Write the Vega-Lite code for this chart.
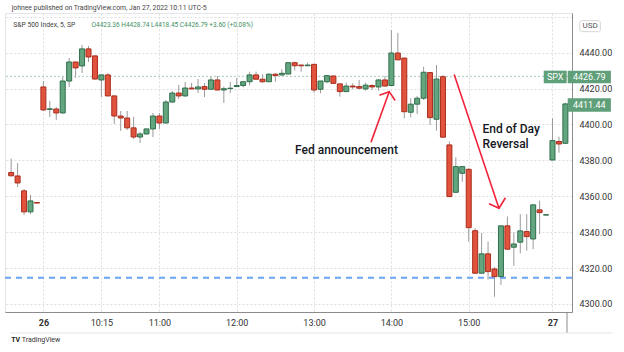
{
  "$schema": "https://vega.github.io/schema/vega-lite/v6.json",
  "width": 567,
  "height": 299,
  "autosize": {"type": "none"},
  "padding": {"left": 5, "top": 13, "right": 52, "bottom": 40},
  "background": "white",
  "resolve": {"axis": {"x": "independent", "y": "independent"}},
  "config": {
    "view": {"stroke": "#e3e5ea"},
    "font": "Roboto",
    "axis": {
      "grid": true,
      "gridColor": "#dedede",
      "gridDash": [2, 2],
      "ticks": false,
      "domainColor": "#8c8c8c",
      "labelFont": "Roboto",
      "labelFontSize": 9,
      "labelColor": "#333333"
    }
  },
  "datasets": {
    "candles": [
      {"i": -5, "o": 4373.2, "h": 4381.0, "l": 4371.0, "c": 4371.4},
      {"i": -4, "o": 4371.3, "h": 4378.5, "l": 4365.2, "c": 4367.4},
      {"i": -3, "o": 4363.0, "h": 4364.0, "l": 4349.6, "c": 4351.3},
      {"i": -2, "o": 4351.3, "h": 4360.7, "l": 4350.1, "c": 4357.4},
      {"i": -1, "o": 4356.5, "h": 4356.5, "l": 4356.2, "c": 4356.2},
      {"i": 0, "o": 4420.9, "h": 4424.2, "l": 4407.5, "c": 4408.1},
      {"i": 1, "o": 4408.4, "h": 4413.1, "l": 4404.2, "c": 4408.7},
      {"i": 2, "o": 4408.6, "h": 4409.7, "l": 4402.5, "c": 4406.4},
      {"i": 3, "o": 4406.4, "h": 4426.5, "l": 4406.0, "c": 4424.2},
      {"i": 4, "o": 4424.2, "h": 4437.0, "l": 4420.9, "c": 4434.8},
      {"i": 5, "o": 4434.8, "h": 4434.8, "l": 4425.9, "c": 4431.5},
      {"i": 6, "o": 4432.6, "h": 4444.3, "l": 4428.7, "c": 4442.1},
      {"i": 7, "o": 4442.1, "h": 4443.7, "l": 4434.8, "c": 4437.6},
      {"i": 8, "o": 4438.2, "h": 4438.5, "l": 4425.0, "c": 4425.3},
      {"i": 9, "o": 4424.8, "h": 4427.8, "l": 4415.3, "c": 4427.6},
      {"i": 10, "o": 4427.6, "h": 4428.7, "l": 4415.7, "c": 4415.9},
      {"i": 11, "o": 4415.9, "h": 4416.0, "l": 4400.3, "c": 4404.7},
      {"i": 12, "o": 4404.7, "h": 4407.5, "l": 4396.4, "c": 4403.6},
      {"i": 13, "o": 4403.6, "h": 4407.5, "l": 4396.9, "c": 4398.1},
      {"i": 14, "o": 4398.1, "h": 4404.2, "l": 4391.9, "c": 4393.0},
      {"i": 15, "o": 4393.0, "h": 4395.8, "l": 4389.7, "c": 4394.7},
      {"i": 16, "o": 4394.7, "h": 4397.6, "l": 4394.5, "c": 4397.5},
      {"i": 17, "o": 4397.5, "h": 4406.4, "l": 4393.0, "c": 4404.7},
      {"i": 18, "o": 4404.7, "h": 4406.4, "l": 4397.5, "c": 4400.8},
      {"i": 19, "o": 4400.8, "h": 4413.6, "l": 4400.6, "c": 4412.5},
      {"i": 20, "o": 4412.5, "h": 4418.7, "l": 4412.0, "c": 4417.5},
      {"i": 21, "o": 4417.5, "h": 4422.0, "l": 4414.2, "c": 4415.9},
      {"i": 22, "o": 4415.9, "h": 4423.7, "l": 4415.3, "c": 4420.3},
      {"i": 23, "o": 4420.3, "h": 4423.1, "l": 4419.6, "c": 4419.8},
      {"i": 24, "o": 4419.8, "h": 4425.3, "l": 4417.5, "c": 4420.9},
      {"i": 25, "o": 4421.1, "h": 4423.1, "l": 4415.3, "c": 4419.6},
      {"i": 26, "o": 4419.6, "h": 4426.6, "l": 4419.4, "c": 4424.8},
      {"i": 27, "o": 4424.8, "h": 4427.0, "l": 4419.0, "c": 4419.2},
      {"i": 28, "o": 4419.2, "h": 4421.1, "l": 4412.0, "c": 4419.9},
      {"i": 29, "o": 4420.0, "h": 4423.7, "l": 4417.5, "c": 4420.2},
      {"i": 30, "o": 4421.1, "h": 4425.9, "l": 4421.0, "c": 4421.7},
      {"i": 31, "o": 4421.7, "h": 4424.0, "l": 4420.6, "c": 4423.8},
      {"i": 32, "o": 4423.8, "h": 4429.4, "l": 4421.7, "c": 4427.6},
      {"i": 33, "o": 4427.6, "h": 4429.4, "l": 4425.0, "c": 4425.2},
      {"i": 34, "o": 4425.2, "h": 4428.0, "l": 4423.3, "c": 4423.8},
      {"i": 35, "o": 4423.8, "h": 4428.5, "l": 4423.6, "c": 4428.0},
      {"i": 36, "o": 4428.0, "h": 4428.5, "l": 4423.8, "c": 4427.2},
      {"i": 37, "o": 4427.6, "h": 4430.8, "l": 4427.0, "c": 4428.5},
      {"i": 38, "o": 4428.1, "h": 4434.6, "l": 4428.0, "c": 4434.4},
      {"i": 39, "o": 4434.4, "h": 4435.0, "l": 4430.0, "c": 4432.7},
      {"i": 40, "o": 4433.1, "h": 4433.2, "l": 4429.4, "c": 4432.7},
      {"i": 41, "o": 4432.7, "h": 4434.4, "l": 4432.6, "c": 4433.1},
      {"i": 42, "o": 4433.5, "h": 4433.6, "l": 4417.7, "c": 4419.2},
      {"i": 43, "o": 4419.6, "h": 4424.3, "l": 4417.4, "c": 4424.2},
      {"i": 44, "o": 4423.8, "h": 4427.3, "l": 4422.9, "c": 4427.2},
      {"i": 45, "o": 4427.0, "h": 4427.1, "l": 4422.6, "c": 4422.9},
      {"i": 46, "o": 4422.6, "h": 4422.7, "l": 4415.5, "c": 4418.3},
      {"i": 47, "o": 4418.3, "h": 4423.3, "l": 4418.2, "c": 4421.4},
      {"i": 48, "o": 4421.4, "h": 4422.9, "l": 4419.6, "c": 4420.9},
      {"i": 49, "o": 4421.1, "h": 4424.8, "l": 4419.6, "c": 4420.2},
      {"i": 50, "o": 4419.8, "h": 4423.3, "l": 4418.8, "c": 4421.9},
      {"i": 51, "o": 4421.7, "h": 4422.4, "l": 4419.2, "c": 4420.9},
      {"i": 52, "o": 4420.9, "h": 4425.2, "l": 4418.8, "c": 4424.8},
      {"i": 53, "o": 4424.8, "h": 4427.0, "l": 4421.1, "c": 4421.4},
      {"i": 54, "o": 4421.7, "h": 4452.6, "l": 4421.5, "c": 4439.8},
      {"i": 55, "o": 4439.8, "h": 4451.0, "l": 4435.8, "c": 4436.0},
      {"i": 56, "o": 4437.0, "h": 4437.2, "l": 4403.4, "c": 4407.1},
      {"i": 57, "o": 4406.8, "h": 4414.6, "l": 4403.9, "c": 4411.3},
      {"i": 58, "o": 4411.3, "h": 4415.9, "l": 4405.8, "c": 4414.6},
      {"i": 59, "o": 4414.6, "h": 4432.2, "l": 4413.6, "c": 4429.1},
      {"i": 60, "o": 4428.9, "h": 4429.2, "l": 4399.7, "c": 4403.8},
      {"i": 61, "o": 4402.9, "h": 4433.1, "l": 4396.5, "c": 4425.3},
      {"i": 62, "o": 4426.6, "h": 4427.6, "l": 4392.8, "c": 4392.9},
      {"i": 63, "o": 4388.6, "h": 4390.5, "l": 4359.6, "c": 4359.8},
      {"i": 64, "o": 4362.2, "h": 4381.7, "l": 4362.0, "c": 4376.5},
      {"i": 65, "o": 4372.8, "h": 4376.9, "l": 4368.1, "c": 4376.5},
      {"i": 66, "o": 4375.0, "h": 4375.6, "l": 4334.7, "c": 4342.5},
      {"i": 67, "o": 4340.8, "h": 4342.2, "l": 4317.0, "c": 4317.1},
      {"i": 68, "o": 4317.1, "h": 4339.5, "l": 4316.9, "c": 4327.9},
      {"i": 69, "o": 4327.9, "h": 4334.7, "l": 4313.5, "c": 4318.0},
      {"i": 70, "o": 4319.5, "h": 4320.5, "l": 4304.0, "c": 4315.2},
      {"i": 71, "o": 4315.2, "h": 4343.6, "l": 4310.6, "c": 4343.5},
      {"i": 72, "o": 4343.5, "h": 4348.7, "l": 4330.4, "c": 4330.5},
      {"i": 73, "o": 4331.6, "h": 4339.9, "l": 4321.2, "c": 4333.4},
      {"i": 74, "o": 4334.4, "h": 4350.0, "l": 4328.2, "c": 4340.7},
      {"i": 75, "o": 4340.3, "h": 4350.0, "l": 4329.7, "c": 4337.5},
      {"i": 76, "o": 4336.2, "h": 4355.3, "l": 4330.5, "c": 4355.2},
      {"i": 77, "o": 4352.4, "h": 4357.5, "l": 4338.8, "c": 4350.9},
      {"i": 78, "o": 4349.5, "h": 4349.7, "l": 4349.5, "c": 4349.7},
      {"i": 79, "o": 4380.2, "h": 4403.5, "l": 4380.0, "c": 4391.0},
      {"i": 80, "o": 4390.5, "h": 4393.2, "l": 4384.3, "c": 4389.1},
      {"i": 81, "o": 4389.5, "h": 4412.1, "l": 4389.4, "c": 4411.44}
    ],
    "arrows": [
      {"x": 50.87, "y": 4390.42, "x2": 53.66, "y2": 4418.27},
      {"x": 52.24, "y": 4416.43, "x2": 53.66, "y2": 4418.27},
      {"x": 54.53, "y": 4413.65, "x2": 53.66, "y2": 4418.27},
      {"x": 63.77, "y": 4427.58, "x2": 70.69, "y2": 4353.31},
      {"x": 69.25, "y": 4355.71, "x2": 70.69, "y2": 4353.31},
      {"x": 71.65, "y": 4358.89, "x2": 70.69, "y2": 4353.31}
    ]
  },
  "layer": [
    {
      "data": {"name": "candles"},
      "mark": {"type": "rule", "color": "#9a9a9a", "strokeWidth": 1, "clip": true},
      "encoding": {
        "x": {
          "field": "i", "type": "quantitative", "title": null,
          "scale": {"domain": [-5.18, 81.25], "nice": false, "zero": false},
          "axis": {
            "orient": "bottom",
            "values": [0, 9, 18, 30, 42, 54, 66, 79],
            "labelExpr": "datum.value == 0 ? '26' : datum.value == 9 ? '10:15' : datum.value == 18 ? '11:00' : datum.value == 30 ? '12:00' : datum.value == 42 ? '13:00' : datum.value == 54 ? '14:00' : datum.value == 66 ? '15:00' : '27'",
            "labelFontWeight": {"condition": {"test": "datum.value == 0 || datum.value == 79", "value": "bold"}, "value": "normal"},
            "labelPadding": 6,
            "labelOverlap": false,
            "labelBound": false
          }
        },
        "y": {
          "field": "l", "type": "quantitative", "title": null,
          "scale": {"domain": [4295.5, 4462.1], "nice": false, "zero": false},
          "axis": {
            "orient": "right",
            "values": [4300, 4320, 4340, 4360, 4380, 4400, 4420, 4440, 4460],
            "labelExpr": "datum.value == 4460 ? '' : format(datum.value, '.2f')",
            "labelPadding": 7,
            "labelOverlap": false
          }
        },
        "y2": {"field": "h"}
      }
    },
    {
      "data": {"values": [{}]},
      "mark": {"type": "rule", "color": "#6aa5f5", "strokeWidth": 2, "strokeDash": [6, 5]},
      "encoding": {"y": {"datum": 4314.6, "type": "quantitative", "axis": null}}
    },
    {
      "data": {"values": [{}]},
      "mark": {"type": "rule", "color": "#a9c9b6", "strokeWidth": 1, "strokeDash": [2, 2]},
      "encoding": {"y": {"datum": 4426.79, "type": "quantitative", "axis": null}}
    },
    {
      "data": {"name": "candles"},
      "mark": {"type": "bar", "width": 5, "strokeWidth": 1, "clip": true},
      "encoding": {
        "x": {"field": "i", "type": "quantitative", "axis": null},
        "y": {"field": "o", "type": "quantitative", "axis": null},
        "y2": {"field": "c"},
        "fill": {"condition": {"test": "datum.c >= datum.o", "value": "#62a57f"}, "value": "#e2533d"},
        "stroke": {"condition": {"test": "datum.c >= datum.o", "value": "#2f6e4b"}, "value": "#a82d1d"}
      }
    },
    {
      "data": {"name": "arrows"},
      "mark": {"type": "rule", "color": "#f2243a", "strokeWidth": 1.6, "strokeCap": "round"},
      "encoding": {
        "x": {"field": "x", "type": "quantitative", "axis": null},
        "y": {"field": "y", "type": "quantitative", "axis": null},
        "x2": {"field": "x2"},
        "y2": {"field": "y2"}
      }
    },
    {
      "data": {"values": [{}]},
      "mark": {"type": "text", "text": "Fed announcement", "font": "Roboto", "fontSize": 12, "fontWeight": 500, "color": "#131722", "align": "center", "baseline": "middle"},
      "encoding": {
        "x": {"datum": 47.03, "type": "quantitative", "axis": null},
        "y": {"datum": 4385.8, "type": "quantitative", "axis": null}
      }
    },
    {
      "data": {"values": [{}]},
      "mark": {"type": "text", "text": "End of Day", "font": "Roboto", "fontSize": 12, "fontWeight": 500, "color": "#131722", "align": "left", "baseline": "middle"},
      "encoding": {
        "x": {"datum": 68.14, "type": "quantitative", "axis": null},
        "y": {"datum": 4397.2, "type": "quantitative", "axis": null}
      }
    },
    {
      "data": {"values": [{}]},
      "mark": {"type": "text", "text": "Reversal", "font": "Roboto", "fontSize": 12, "fontWeight": 500, "color": "#131722", "align": "left", "baseline": "middle"},
      "encoding": {
        "x": {"datum": 68.14, "type": "quantitative", "axis": null},
        "y": {"datum": 4389.1, "type": "quantitative", "axis": null}
      }
    },
    {
      "data": {"values": [{}]},
      "mark": {"type": "rect", "fill": "#5f9f79", "clip": false},
      "encoding": {
        "x": {"datum": 77.64, "type": "quantitative", "axis": null},
        "x2": {"datum": 81.2},
        "y": {"datum": 4429.97, "type": "quantitative", "axis": null},
        "y2": {"datum": 4422.95}
      }
    },
    {
      "data": {"values": [{}]},
      "mark": {"type": "rect", "fill": "#5f9f79", "clip": false},
      "encoding": {
        "x": {"datum": 81.36, "type": "quantitative", "axis": null},
        "x2": {"datum": 88.06},
        "y": {"datum": 4429.97, "type": "quantitative", "axis": null},
        "y2": {"datum": 4422.95}
      }
    },
    {
      "data": {"values": [{}]},
      "mark": {"type": "rect", "fill": "#5f9f79", "clip": false},
      "encoding": {
        "x": {"datum": 81.36, "type": "quantitative", "axis": null},
        "x2": {"datum": 88.06},
        "y": {"datum": 4414.6, "type": "quantitative", "axis": null},
        "y2": {"datum": 4407.13}
      }
    },
    {
      "data": {"values": [{}]},
      "mark": {"type": "text", "text": "SPX", "fontSize": 9, "color": "white", "align": "center", "baseline": "middle"},
      "encoding": {
        "x": {"datum": 79.42, "type": "quantitative", "axis": null},
        "y": {"datum": 4426.5, "type": "quantitative", "axis": null}
      }
    },
    {
      "data": {"values": [{}]},
      "mark": {"type": "text", "text": "4426.79", "fontSize": 9, "color": "white", "align": "center", "baseline": "middle"},
      "encoding": {
        "x": {"datum": 84.71, "type": "quantitative", "axis": null},
        "y": {"datum": 4426.5, "type": "quantitative", "axis": null}
      }
    },
    {
      "data": {"values": [{}]},
      "mark": {"type": "text", "text": "4411.44", "fontSize": 9, "color": "white", "align": "center", "baseline": "middle"},
      "encoding": {
        "x": {"datum": 84.71, "type": "quantitative", "axis": null},
        "y": {"datum": 4410.9, "type": "quantitative", "axis": null}
      }
    },
    {
      "data": {"values": [{}]},
      "mark": {"type": "rect", "fill": "white", "stroke": "#d6d6d6", "strokeWidth": 1, "cornerRadius": 2, "clip": false},
      "encoding": {
        "x": {"datum": 83.23, "type": "quantitative", "axis": null},
        "x2": {"datum": 86.43},
        "y": {"datum": 4457.83, "type": "quantitative", "axis": null},
        "y2": {"datum": 4451.7}
      }
    },
    {
      "data": {"values": [{}]},
      "mark": {"type": "text", "text": "USD", "fontSize": 8, "color": "#555555", "align": "center", "baseline": "middle"},
      "encoding": {
        "x": {"datum": 84.83, "type": "quantitative", "axis": null},
        "y": {"datum": 4454.8, "type": "quantitative", "axis": null}
      }
    },
    {
      "data": {"values": [{}]},
      "mark": {"type": "text", "text": "johnee published on TradingView.com, Jan 27, 2022 10:11 UTC-5", "fontSize": 6.8, "color": "#444444", "align": "left", "baseline": "middle"},
      "encoding": {
        "x": {"datum": -4.92, "type": "quantitative", "axis": null},
        "y": {"datum": 4464.7, "type": "quantitative", "axis": null}
      }
    },
    {
      "data": {"values": [{}]},
      "mark": {"type": "text", "text": "S&P 500 Index, 5, SP", "fontSize": 6.8, "color": "#444444", "align": "left", "baseline": "middle"},
      "encoding": {
        "x": {"datum": -4.68, "type": "quantitative", "axis": null},
        "y": {"datum": 4455.4, "type": "quantitative", "axis": null}
      }
    },
    {
      "data": {"values": [{}]},
      "mark": {"type": "text", "text": "O4423.36  H4428.74  L4418.45  C4426.79  +3.60 (+0.08%)", "fontSize": 6.5, "color": "#3f8f63", "align": "left", "baseline": "middle"},
      "encoding": {
        "x": {"datum": 7.47, "type": "quantitative", "axis": null},
        "y": {"datum": 4455.4, "type": "quantitative", "axis": null}
      }
    },
    {
      "data": {"values": [{}]},
      "mark": {"type": "text", "text": "TV", "fontSize": 7, "fontWeight": "bold", "color": "#222222", "align": "left", "baseline": "middle"},
      "encoding": {
        "x": {"datum": -5.0, "type": "quantitative", "axis": null},
        "y": {"datum": 4279.9, "type": "quantitative", "axis": null}
      }
    },
    {
      "data": {"values": [{}]},
      "mark": {"type": "text", "text": "TradingView", "fontSize": 7, "color": "#333333", "align": "left", "baseline": "middle"},
      "encoding": {
        "x": {"datum": -3.35, "type": "quantitative", "axis": null},
        "y": {"datum": 4279.9, "type": "quantitative", "axis": null}
      }
    },
    {
      "data": {"values": [{}]},
      "mark": {"type": "rule", "color": "#8c8c8c", "strokeWidth": 1, "clip": false},
      "encoding": {
        "x": {"datum": 81.25, "type": "quantitative", "axis": null},
        "y": {"datum": 4295.5, "type": "quantitative", "axis": null},
        "y2": {"datum": 4283.8}
      }
    },
    {
      "data": {"values": [{}]},
      "mark": {"type": "rule", "color": "#e3e5ea", "strokeWidth": 1, "clip": false},
      "encoding": {
        "x": {"datum": -5.18, "type": "quantitative", "axis": null},
        "x2": {"datum": 88.26},
        "y": {"datum": 4283.8, "type": "quantitative", "axis": null}
      }
    }
  ]
}
